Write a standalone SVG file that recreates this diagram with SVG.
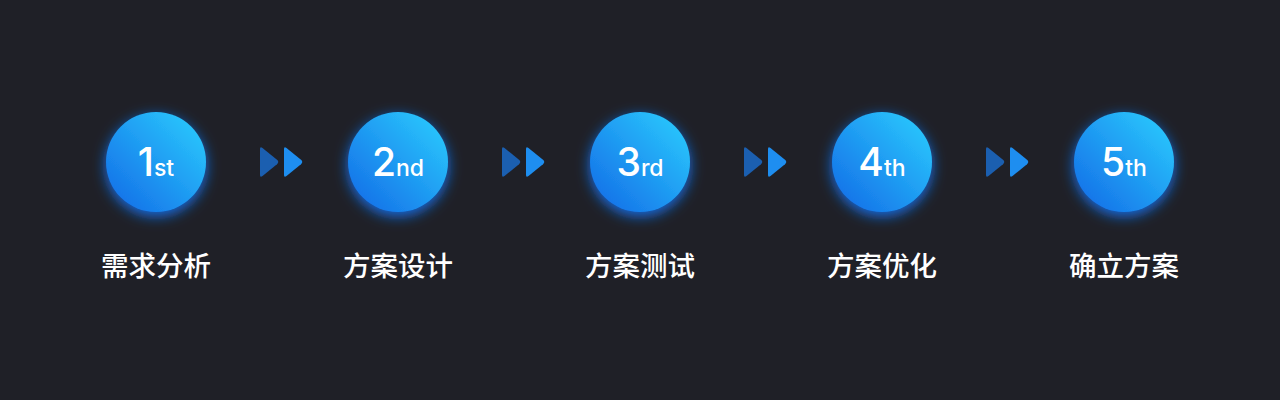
<svg xmlns="http://www.w3.org/2000/svg" width="1280" height="400" viewBox="0 0 1280 400">
<defs>
<linearGradient id="g" x1="1" y1="0" x2="0" y2="1">
<stop offset="0" stop-color="#2cd0ff"/>
<stop offset="1" stop-color="#1268e6"/>
</linearGradient>
<filter id="glow" x="-50%" y="-50%" width="200%" height="200%">
<feGaussianBlur in="SourceAlpha" stdDeviation="7"/>
<feOffset dy="4" result="b"/>
<feFlood flood-color="#1579ff" flood-opacity="0.9"/>
<feComposite in2="b" operator="in"/>
<feMerge><feMergeNode/><feMergeNode in="SourceGraphic"/></feMerge>
</filter>
<path id="arr" d="M0,-13 Q0,-16 2.5,-14 L17,-2.2 Q19.5,0 17,2.2 L2.5,14 Q0,16 0,13 Z"/>
</defs>
<style>
.c{fill:url(#g);filter:url(#glow)}
.n{font-family:Inter,"Liberation Sans",sans-serif;font-weight:500;fill:#fff;text-anchor:middle}
.big{font-size:39px}
.sm{font-size:23px}
.l{font-family:"Noto Sans CJK SC","Noto Sans",sans-serif;font-size:27.5px;font-weight:500;fill:#fff;text-anchor:middle}
.a1{fill:#1b5fb0}
.a2{fill:#1e8ef0}
</style>
<rect width="1280" height="400" fill="#1f2027"/>
<g id="connectors">
<use href="#arr" class="a1" x="260" y="162"/><use href="#arr" class="a2" x="284" y="162"/>
<use href="#arr" class="a1" x="502" y="162"/><use href="#arr" class="a2" x="526" y="162"/>
<use href="#arr" class="a1" x="744" y="162"/><use href="#arr" class="a2" x="768" y="162"/>
<use href="#arr" class="a1" x="986" y="162"/><use href="#arr" class="a2" x="1010" y="162"/>
</g>
<g id="step1"><circle class="c" cx="156" cy="162" r="50"/><text class="n" x="156" y="176"><tspan class="big">1</tspan><tspan class="sm">st</tspan></text><text class="l" x="156" y="276">需求分析</text></g>
<g id="step2"><circle class="c" cx="398" cy="162" r="50"/><text class="n" x="398" y="176"><tspan class="big">2</tspan><tspan class="sm">nd</tspan></text><text class="l" x="398" y="276">方案设计</text></g>
<g id="step3"><circle class="c" cx="640" cy="162" r="50"/><text class="n" x="640" y="176"><tspan class="big">3</tspan><tspan class="sm">rd</tspan></text><text class="l" x="640" y="276">方案测试</text></g>
<g id="step4"><circle class="c" cx="882" cy="162" r="50"/><text class="n" x="882" y="176"><tspan class="big">4</tspan><tspan class="sm">th</tspan></text><text class="l" x="882" y="276">方案优化</text></g>
<g id="step5"><circle class="c" cx="1124" cy="162" r="50"/><text class="n" x="1124" y="176"><tspan class="big">5</tspan><tspan class="sm">th</tspan></text><text class="l" x="1124" y="276">确立方案</text></g>
</svg>
